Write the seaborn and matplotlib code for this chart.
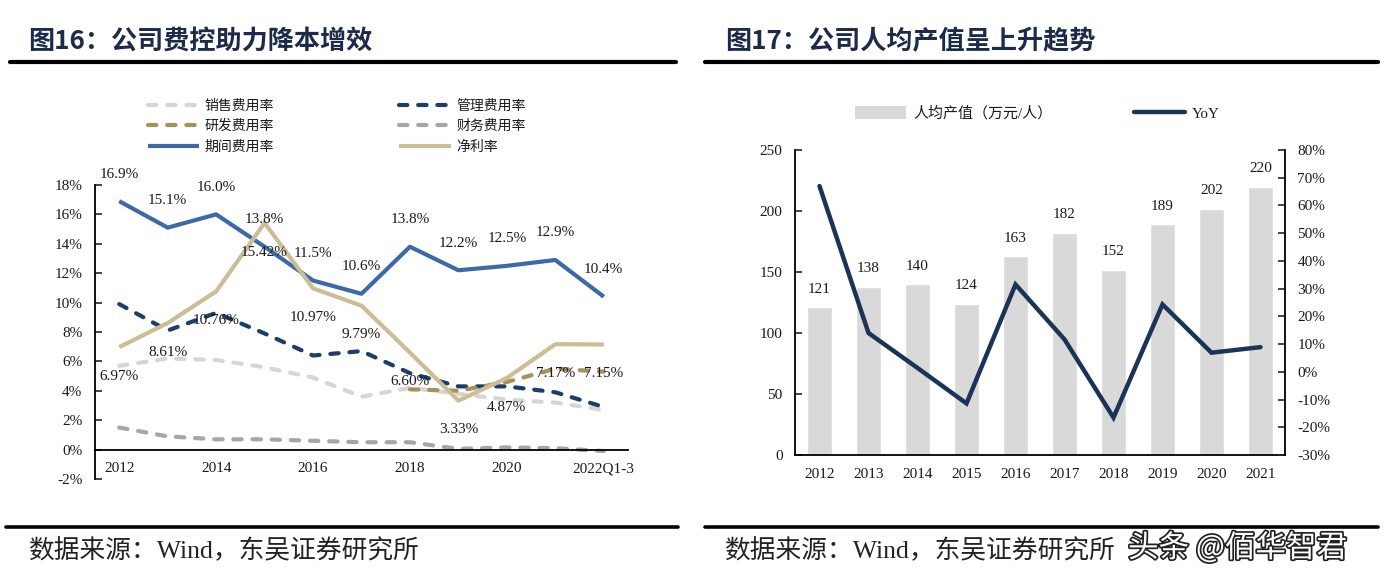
import numpy as np
import pandas as pd
import matplotlib
matplotlib.use("Agg")
import matplotlib.pyplot as plt
import seaborn as sns
from matplotlib.lines import Line2D
from matplotlib.patches import Patch
import matplotlib.patheffects as pe

# ---------------- data ----------------
years_left = ['2012', '2013', '2014', '2015', '2016', '2017', '2018', '2019', '2020', '2021', '2022Q1-3']
sales_rate = [5.7, 6.2, 6.1, 5.6, 4.9, 3.6, 4.2, 3.8, 3.4, 3.2, 2.7]
mgmt_rate = [9.9, 8.1, 9.3, 7.9, 6.4, 6.7, 5.2, 4.3, 4.3, 3.9, 2.9]
rd_rate = [np.nan, np.nan, np.nan, np.nan, np.nan, np.nan, 4.1, 4.0, 4.6, 5.5, 5.3]
fin_rate = [1.5, 0.9, 0.7, 0.7, 0.6, 0.5, 0.5, 0.05, 0.15, 0.1, -0.1]
period_rate = [16.9, 15.1, 16.0, 13.8, 11.5, 10.6, 13.8, 12.2, 12.5, 12.9, 10.4]
net_margin = [6.97, 8.61, 10.76, 15.42, 10.97, 9.79, 6.60, 3.33, 4.87, 7.17, 7.15]
left_yticks = [-2, 0, 2, 4, 6, 8, 10, 12, 14, 16, 18]

years_right = ['2012', '2013', '2014', '2015', '2016', '2017', '2018', '2019', '2020', '2021']
per_capita = [121, 138, 140, 124, 163, 182, 152, 189, 202, 220]
yoy = [67.0, 14.0, 1.4, -11.4, 31.5, 11.7, -16.5, 24.3, 6.9, 8.9]
right_yticks_left = [0, 50, 100, 150, 200, 250]
right_yticks_right = [-30, -20, -10, 0, 10, 20, 30, 40, 50, 60, 70, 80]

# ---------------- style ----------------
sns.set_theme(style="white")
CJK = ["Noto Sans CJK SC", "DejaVu Sans"]
SERIF = ["Liberation Serif", "Noto Sans CJK SC", "DejaVu Sans"]
plt.rcParams["font.family"] = SERIF
plt.rcParams["axes.unicode_minus"] = False

TXT = "#1a1a1a"
C_SALES = "#d6d6d6"
C_MGMT = "#1f3d6b"
C_RD = "#a8915a"
C_FIN = "#a6a6a6"
C_PERIOD = "#3d6aa6"
C_NET = "#cbbd95"
C_BAR = "#d9d9d9"
C_YOY = "#1c3358"
C_TITLE = "#1c2b4a"

W, H = 1388, 578
fig = plt.figure(figsize=(W / 100, H / 100), dpi=100, facecolor="white")


def fx(px):
    return px / W


def fy(py):
    return 1 - py / H


# ---------------- decorations ----------------
fig.text(fx(28), fy(42), "图16：公司费控助力降本增效", fontsize=18.8, fontweight="bold",
         color=C_TITLE, va="center", ha="left", family=CJK)
fig.text(fx(725), fy(42), "图17：公司人均产值呈上升趋势", fontsize=18.8, fontweight="bold",
         color=C_TITLE, va="center", ha="left", family=CJK)
for x0, x1 in [(10, 676), (705, 1378)]:
    fig.add_artist(Line2D([fx(x0), fx(x1)], [fy(62), fy(62)], transform=fig.transFigure,
                          color="black", lw=3))
for x0, x1 in [(6, 678), (705, 1378)]:
    fig.add_artist(Line2D([fx(x0), fx(x1)], [fy(527), fy(527)], transform=fig.transFigure,
                          color="black", lw=2.6))
fig.text(fx(28), fy(551), "数据来源：Wind，东吴证券研究所", fontsize=18.5, color="#222222",
         va="center", ha="left", family=SERIF)
fig.text(fx(724), fy(551), "数据来源：Wind，东吴证券研究所", fontsize=18.5, color="#222222",
         va="center", ha="left", family=SERIF)

# ---------------- left chart ----------------
axL = fig.add_axes([fx(95), fy(479), fx(628) - fx(95), fy(185) - fy(479)])
xL = np.arange(len(years_left))
dash = (0, (2.0, 2.6))

series = [
    ("销售费用率", sales_rate, C_SALES, dash),
    ("管理费用率", mgmt_rate, C_MGMT, dash),
    ("研发费用率", rd_rate, C_RD, dash),
    ("财务费用率", fin_rate, C_FIN, dash),
    ("期间费用率", period_rate, C_PERIOD, "-"),
    ("净利率", net_margin, C_NET, "-"),
]
handles = {}
for name, vals, col, ls in series:
    df = pd.DataFrame({"x": xL, "y": vals}).dropna()
    sns.lineplot(data=df, x="x", y="y", ax=axL, color=col, linewidth=3.0, linestyle=ls,
                 dash_capstyle="round", solid_capstyle="butt", errorbar=None, label=name,
                 legend=False)
    handles[name] = axL.lines[-1]

for i, v in enumerate(period_rate):
    axL.annotate(f"{v:.1f}%", (xL[i], v), xytext=(0, 19.5), textcoords="offset points",
                 ha="center", va="center", fontsize=11, color=TXT)
for i, v in enumerate(net_margin):
    axL.annotate(f"{v:.2f}%", (xL[i], v), xytext=(0, -21), textcoords="offset points",
                 ha="center", va="center", fontsize=11, color=TXT)

axL.set_xlim(-0.5, len(years_left) - 0.5)
axL.set_ylim(-2, 18)
axL.set_yticks(left_yticks)
axL.set_yticklabels([f"{t}%" for t in left_yticks])
axL.set_xticks(xL[::2])
axL.set_xticklabels(years_left[::2])
axL.set_xticks(np.arange(0.5, len(years_left), 1), minor=True)
axL.tick_params(axis="x", which="major", length=0, pad=9, labelsize=11, labelcolor=TXT)
axL.tick_params(axis="x", which="minor", direction="in", length=5, width=1.2, color="black")
axL.tick_params(axis="y", direction="in", length=5, width=1.2, pad=9, labelsize=11,
                labelcolor=TXT, left=True)
axL.spines["bottom"].set_position(("data", 0))
for s in ["top", "right"]:
    axL.spines[s].set_visible(False)
for s in ["left", "bottom"]:
    axL.spines[s].set_color("black")
    axL.spines[s].set_linewidth(1.3)
axL.set_xlabel("")
axL.set_ylabel("")
axL.patch.set_alpha(0)

order = ["销售费用率", "研发费用率", "期间费用率", "管理费用率", "财务费用率", "净利率"]
legL = axL.legend([handles[n] for n in order], order, ncol=2, loc="upper left",
                  bbox_to_anchor=(fx(148), fy(99)), bbox_transform=fig.transFigure,
                  frameon=False, borderpad=0, borderaxespad=0, handlelength=3.7,
                  handletextpad=0.4, columnspacing=9.0, labelspacing=0.45,
                  prop={"family": CJK, "size": 10})
for t in legL.get_texts():
    t.set_color(TXT)

# ---------------- right chart ----------------
axR = fig.add_axes([fx(795), fy(455), fx(1285) - fx(795), fy(150) - fy(455)])
dfR = pd.DataFrame({"year": years_right, "value": per_capita})
sns.barplot(data=dfR, x="year", y="value", ax=axR, color=C_BAR, saturation=1, width=0.5,
            errorbar=None)
for i, v in enumerate(per_capita):
    axR.annotate(f"{v}", (i, v), xytext=(0, 13), textcoords="offset points",
                 ha="center", va="center", fontsize=11, color=TXT)
axR.set_ylim(0, 250)
axR.set_yticks(right_yticks_left)
axR.set_xlim(-0.5, len(years_right) - 0.5)
axR.set_xticks(np.arange(len(years_right)))
axR.set_xticklabels(years_right)
axR.set_xticks(np.arange(0.5, len(years_right) - 0.5, 1), minor=True)
axR.tick_params(axis="x", which="major", length=0, pad=9, labelsize=11, labelcolor=TXT)
axR.tick_params(axis="x", which="minor", direction="in", length=5, width=1.2, color="black")
axR.tick_params(axis="y", direction="in", length=5, width=1.2, pad=9, labelsize=11,
                labelcolor=TXT, left=True)
axR.set_xlabel("")
axR.set_ylabel("")
for s in ["top", "right"]:
    axR.spines[s].set_visible(False)
for s in ["left", "bottom"]:
    axR.spines[s].set_color("black")
    axR.spines[s].set_linewidth(1.3)

axR2 = axR.twinx()
dfY = pd.DataFrame({"x": np.arange(len(years_right)), "y": yoy})
sns.lineplot(data=dfY, x="x", y="y", ax=axR2, color=C_YOY, linewidth=3.2, errorbar=None,
             solid_joinstyle="miter", legend=False)
axR2.set_ylim(-30, 80)
axR2.set_yticks(right_yticks_right)
axR2.set_yticklabels([f"{t}%" for t in right_yticks_right])
axR2.tick_params(axis="y", direction="in", length=5, width=1.2, pad=9, labelsize=11,
                 labelcolor=TXT, right=True)
axR2.set_xlim(-0.5, len(years_right) - 0.5)
axR2.set_ylabel("")
for s in ["top", "left", "bottom"]:
    axR2.spines[s].set_visible(False)
axR2.spines["right"].set_color("black")
axR2.spines["right"].set_linewidth(1.3)

legR = axR2.legend([Patch(facecolor=C_BAR, edgecolor="none"),
                    Line2D([0], [0], color=C_YOY, lw=3.2)],
                   ["人均产值（万元/人）", "YoY"], ncol=2, loc="upper left",
                   bbox_to_anchor=(fx(855), fy(106)), bbox_transform=fig.transFigure,
                   frameon=False, borderpad=0, borderaxespad=0, handlelength=3.4,
                   handleheight=0.9, handletextpad=0.5, columnspacing=5.4,
                   prop={"family": SERIF, "size": 10.8})
for t in legR.get_texts():
    t.set_color(TXT)

# watermark
fig.text(fx(1128), fy(548), "头条 @佰华智君", fontsize=22, color="white", va="center",
         ha="left", family=CJK,
         path_effects=[pe.withStroke(linewidth=2.5, foreground="#222222")])

fig.savefig("out.png", dpi=100, facecolor="white")
